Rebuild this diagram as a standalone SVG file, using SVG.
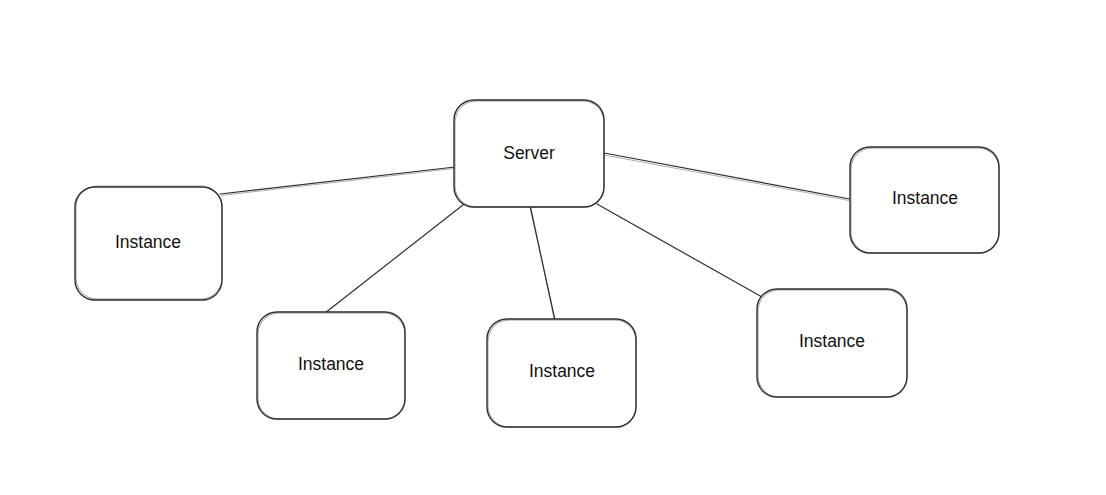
<svg xmlns="http://www.w3.org/2000/svg" width="1106" height="495" viewBox="0 0 1106 495">
  <style>
    .box { fill: #ffffff; stroke: #2e2e2e; stroke-width: 1.4; }
    .box2 { fill: none; stroke: #2e2e2e; stroke-width: 0.8; opacity: 0.6; }
    .wire { fill: none; stroke: #2e2e2e; stroke-width: 1.2; stroke-linecap: round; }
    .wire2 { fill: none; stroke: #2e2e2e; stroke-width: 0.7; opacity: 0.55; stroke-linecap: round; }
    .label { font-family: "Liberation Sans", Arial, sans-serif; font-size: 17.5px; fill: #111111; text-anchor: middle; dominant-baseline: central; }
  </style>
  <rect width="1106" height="495" fill="#ffffff"/>

  <g id="connectors">
    <path class="wire" d="M220 194 L455 167"/>
    <path class="wire2" d="M221 195.5 L454 168.5"/>
    <path class="wire" d="M604 153 L850 199"/>
    <path class="wire2" d="M604 155 L849 200.5"/>
    <path class="wire" d="M468 201 L325 313"/>
    <path class="wire" d="M530 206 L555 320"/>
    <path class="wire2" d="M531 207 L554 319"/>
    <path class="wire" d="M597 204 L762 297"/>
  </g>

  <g id="server">
    <rect class="box" x="454" y="100" width="150" height="107" rx="20"/>
    <rect class="box2" x="455" y="101" width="149" height="106" rx="21"/>
    <text class="label" x="529" y="153">Server</text>
  </g>

  <g id="instance-left">
    <rect class="box" x="75" y="187" width="147" height="113" rx="20"/>
    <rect class="box2" x="76" y="186" width="146" height="113" rx="21"/>
    <text class="label" x="148" y="242">Instance</text>
  </g>

  <g id="instance-top-right">
    <rect class="box" x="850" y="147" width="149" height="106" rx="20"/>
    <rect class="box2" x="851" y="148" width="148" height="105" rx="21"/>
    <text class="label" x="925" y="198">Instance</text>
  </g>

  <g id="instance-bottom-left">
    <rect class="box" x="257" y="312" width="148" height="107" rx="20"/>
    <rect class="box2" x="258" y="313" width="147" height="106" rx="21"/>
    <text class="label" x="331" y="364">Instance</text>
  </g>

  <g id="instance-bottom-center">
    <rect class="box" x="487" y="319" width="149" height="108" rx="20"/>
    <rect class="box2" x="488" y="320" width="148" height="107" rx="21"/>
    <text class="label" x="562" y="371">Instance</text>
  </g>

  <g id="instance-bottom-right">
    <rect class="box" x="757" y="289" width="150" height="108" rx="20"/>
    <rect class="box2" x="758" y="290" width="149" height="107" rx="21"/>
    <text class="label" x="832" y="341">Instance</text>
  </g>
</svg>
